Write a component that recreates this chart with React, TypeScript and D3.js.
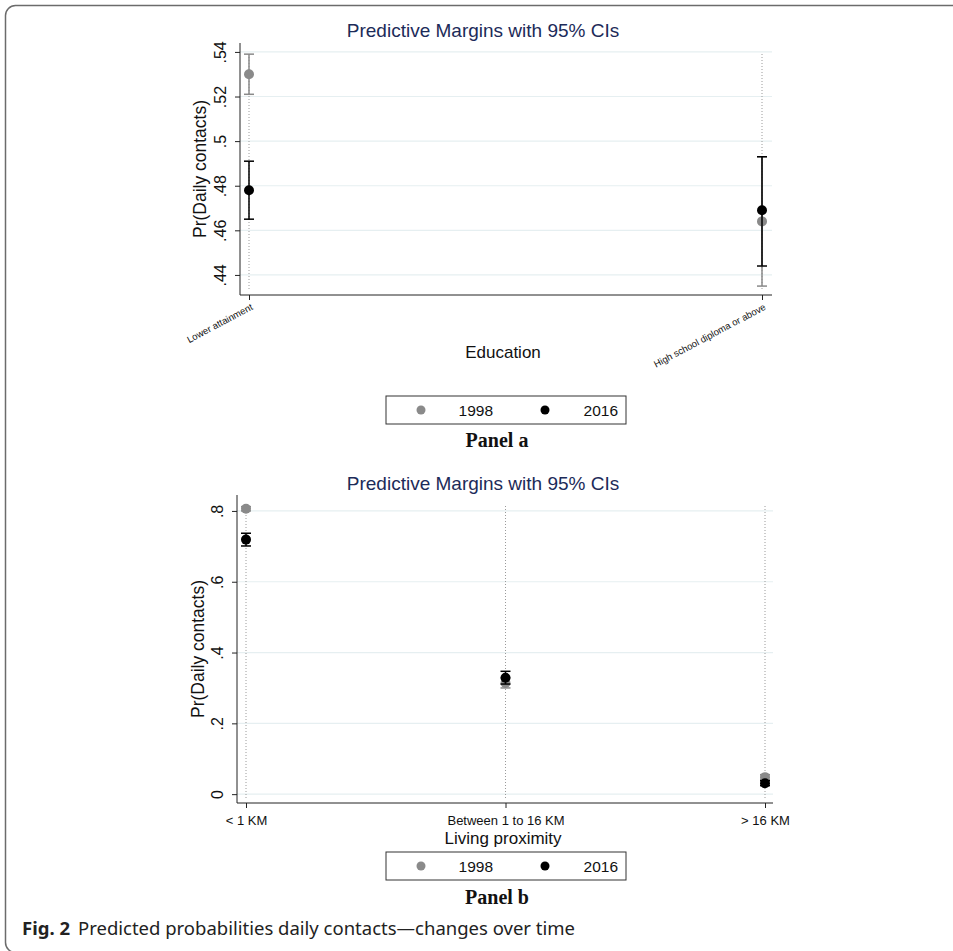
import React, { useEffect, useRef } from "react";
import * as d3 from "d3";

// panel a: education
const eduCategories = ["Lower attainment", "High school diploma or above"];
const edu1998 = [
  { m: 0.53, lo: 0.521, hi: 0.539 },
  { m: 0.464, lo: 0.435, hi: 0.493 },
];
const edu2016 = [
  { m: 0.478, lo: 0.465, hi: 0.491 },
  { m: 0.469, lo: 0.444, hi: 0.493 },
];
const eduTicks = [0.44, 0.46, 0.48, 0.5, 0.52, 0.54];

// panel b: living proximity
const proxCategories = ["< 1 KM", "Between 1 to 16 KM", "> 16 KM"];
const prox1998 = [
  { m: 0.806, lo: 0.8, hi: 0.812 },
  { m: 0.314, lo: 0.3, hi: 0.328 },
  { m: 0.048, lo: 0.041, hi: 0.055 },
];
const prox2016 = [
  { m: 0.719, lo: 0.701, hi: 0.737 },
  { m: 0.329, lo: 0.311, hi: 0.347 },
  { m: 0.031, lo: 0.024, hi: 0.038 },
];
const proxTicks = [0, 0.2, 0.4, 0.6, 0.8];

const years = ["1998", "2016"];
const yearColors = ["#8a8a8a", "#000000"];

const fmt = (v) => (v === 0 ? "0" : String(v).replace(/^0/, ""));

const SANS = "Arial, 'Liberation Sans', Helvetica, sans-serif";

function drawPanel(svg, p) {
  const g = svg.append("g");
  const y = d3.scaleLinear().domain(p.yDomain).range([p.bottom, p.top]);
  const x = d3.scalePoint().domain(p.categories).range(p.xRange);

  g.append("text")
    .attr("x", 483)
    .attr("y", p.titleY)
    .attr("text-anchor", "middle")
    .style("font-family", SANS)
    .style("font-size", "19px")
    .style("fill", "#1c2b59")
    .text("Predictive Margins with 95% CIs");

  // horizontal grid
  g.selectAll(".grid")
    .data(p.ticks)
    .join("line")
    .attr("x1", p.left)
    .attr("x2", p.right)
    .attr("y1", (d) => y(d))
    .attr("y2", (d) => y(d))
    .attr("stroke", "#e6eff1")
    .attr("stroke-width", 1.2);

  // vertical dotted lines at categories
  g.selectAll(".vline")
    .data(p.categories)
    .join("line")
    .attr("x1", (d) => x(d))
    .attr("x2", (d) => x(d))
    .attr("y1", p.top + 11)
    .attr("y2", p.bottom - 5)
    .attr("stroke", "#9a9a9a")
    .attr("stroke-width", 1)
    .attr("stroke-dasharray", "1,2");

  // axes
  const yAxis = g
    .append("g")
    .attr("transform", `translate(${p.left},0)`)
    .call(d3.axisLeft(y).tickValues(p.ticks).tickSize(5).tickFormat(fmt));
  yAxis.select(".domain").attr("d", `M-0,${p.top}V${p.bottom}`).attr("stroke", "#222");
  yAxis.selectAll(".tick line").attr("stroke", "#222");
  yAxis
    .selectAll(".tick text")
    .attr("x", null)
    .attr("dy", null)
    .attr("transform", "translate(-14,0) rotate(-90)")
    .attr("text-anchor", "middle")
    .style("font-family", SANS)
    .style("font-size", "16px")
    .style("fill", "#111");

  const xAxis = g
    .append("g")
    .attr("transform", `translate(0,${p.bottom})`)
    .call(d3.axisBottom(x).tickSize(5));
  xAxis.select(".domain").attr("d", `M${p.left},0H${p.right}`).attr("stroke", "#222");
  xAxis.selectAll(".tick line").attr("stroke", "#222");
  const xt = xAxis
    .selectAll(".tick text")
    .style("font-family", SANS)
    .style("fill", "#111");
  if (p.rotate) {
    xt.attr("y", null)
      .attr("dy", null)
      .attr("transform", `translate(4,14) rotate(${-p.rotate})`)
      .attr("text-anchor", "end")
      .style("font-size", "9.5px");
  } else {
    xt.attr("y", 22).attr("dy", null).style("font-size", "13px");
  }

  g.append("text")
    .attr("transform", `translate(${p.yTitleX},${(p.top + p.bottom) / 2}) rotate(-90)`)
    .attr("text-anchor", "middle")
    .style("font-family", SANS)
    .style("font-size", "17.5px")
    .style("fill", "#111")
    .text("Pr(Daily contacts)");

  g.append("text")
    .attr("x", 503)
    .attr("y", p.xTitleY)
    .attr("text-anchor", "middle")
    .style("font-family", SANS)
    .style("font-size", "17px")
    .style("fill", "#111")
    .text(p.xTitle);

  // CIs and markers
  p.series.forEach((s, si) => {
    const col = yearColors[si];
    const sg = g.append("g");
    sg.selectAll(".ci")
      .data(s)
      .join("line")
      .attr("x1", (d, i) => x(p.categories[i]))
      .attr("x2", (d, i) => x(p.categories[i]))
      .attr("y1", (d) => y(d.lo))
      .attr("y2", (d) => y(d.hi))
      .attr("stroke", col)
      .attr("stroke-width", 1.5);
    ["lo", "hi"].forEach((k) => {
      sg.selectAll(".cap" + k)
        .data(s)
        .join("line")
        .attr("x1", (d, i) => x(p.categories[i]) - 5)
        .attr("x2", (d, i) => x(p.categories[i]) + 5)
        .attr("y1", (d) => y(d[k]))
        .attr("y2", (d) => y(d[k]))
        .attr("stroke", col)
        .attr("stroke-width", 1.5);
    });
    sg.selectAll("circle")
      .data(s)
      .join("circle")
      .attr("cx", (d, i) => x(p.categories[i]))
      .attr("cy", (d) => y(d.m))
      .attr("r", 5)
      .attr("fill", col);
  });

  // legend
  const lg = g.append("g").attr("transform", `translate(386,${p.legendY})`);
  lg.append("rect")
    .attr("width", 240)
    .attr("height", 28)
    .attr("fill", "#fff")
    .attr("stroke", "#333")
    .attr("stroke-width", 1);
  years.forEach((yr, i) => {
    lg.append("circle")
      .attr("cx", 35 + i * 124)
      .attr("cy", 14)
      .attr("r", 4.5)
      .attr("fill", yearColors[i]);
    lg.append("text")
      .attr("x", 107 + i * 125)
      .attr("y", 19.5)
      .attr("text-anchor", "end")
      .style("font-family", SANS)
      .style("font-size", "15.5px")
      .style("fill", "#111")
      .text(yr);
  });

  g.append("text")
    .attr("x", 497)
    .attr("y", p.panelY)
    .attr("text-anchor", "middle")
    .style("font-family", "'Times New Roman', 'Liberation Serif', serif")
    .style("font-weight", "bold")
    .style("font-size", "20px")
    .style("fill", "#111")
    .text(p.panel);
}

const App = () => {
  const ref = useRef(null);

  useEffect(() => {
    const svg = d3.select(ref.current);
    svg.selectAll("*").remove();

    svg.append("rect").attr("width", 953).attr("height", 951).attr("fill", "#fff");
    svg.append("rect")
      .attr("x", 5.5)
      .attr("y", 5.5)
      .attr("width", 1000)
      .attr("height", 947)
      .attr("rx", 10)
      .attr("fill", "none")
      .attr("stroke", "#6b6b6b")
      .attr("stroke-width", 1.5);

    drawPanel(svg, {
      categories: eduCategories,
      series: [edu1998, edu2016],
      ticks: eduTicks,
      yDomain: [0.431, 0.544],
      top: 43,
      bottom: 295,
      left: 240,
      right: 772,
      xRange: [249, 762],
      titleY: 37,
      rotate: 28,
      yTitleX: 206,
      xTitle: "Education",
      xTitleY: 358,
      legendY: 396,
      panelY: 447,
      panel: "Panel a",
    });

    drawPanel(svg, {
      categories: proxCategories,
      series: [prox1998, prox2016],
      ticks: proxTicks,
      yDomain: [-0.025, 0.845],
      top: 495,
      bottom: 803,
      left: 237,
      right: 773,
      xRange: [246, 765],
      titleY: 490,
      rotate: 0,
      yTitleX: 204,
      xTitle: "Living proximity",
      xTitleY: 844,
      legendY: 852,
      panelY: 904,
      panel: "Panel b",
    });

    const cap = svg
      .append("text")
      .attr("x", 22)
      .attr("y", 935)
      .style("font-family", "'Noto Sans', 'Open Sans', sans-serif")
      .style("font-size", "18.5px")
      .style("fill", "#222");
    cap.append("tspan").style("font-weight", "bold").text("Fig. 2");
    cap.append("tspan").attr("dx", 8).text("Predicted probabilities daily contacts\u2014changes over time");
  }, []);

  return (
    <svg
      ref={ref}
      width={953}
      height={951}
      style={{ position: "absolute", left: 0, top: 0, display: "block" }}
    />
  );
};

export default App;
